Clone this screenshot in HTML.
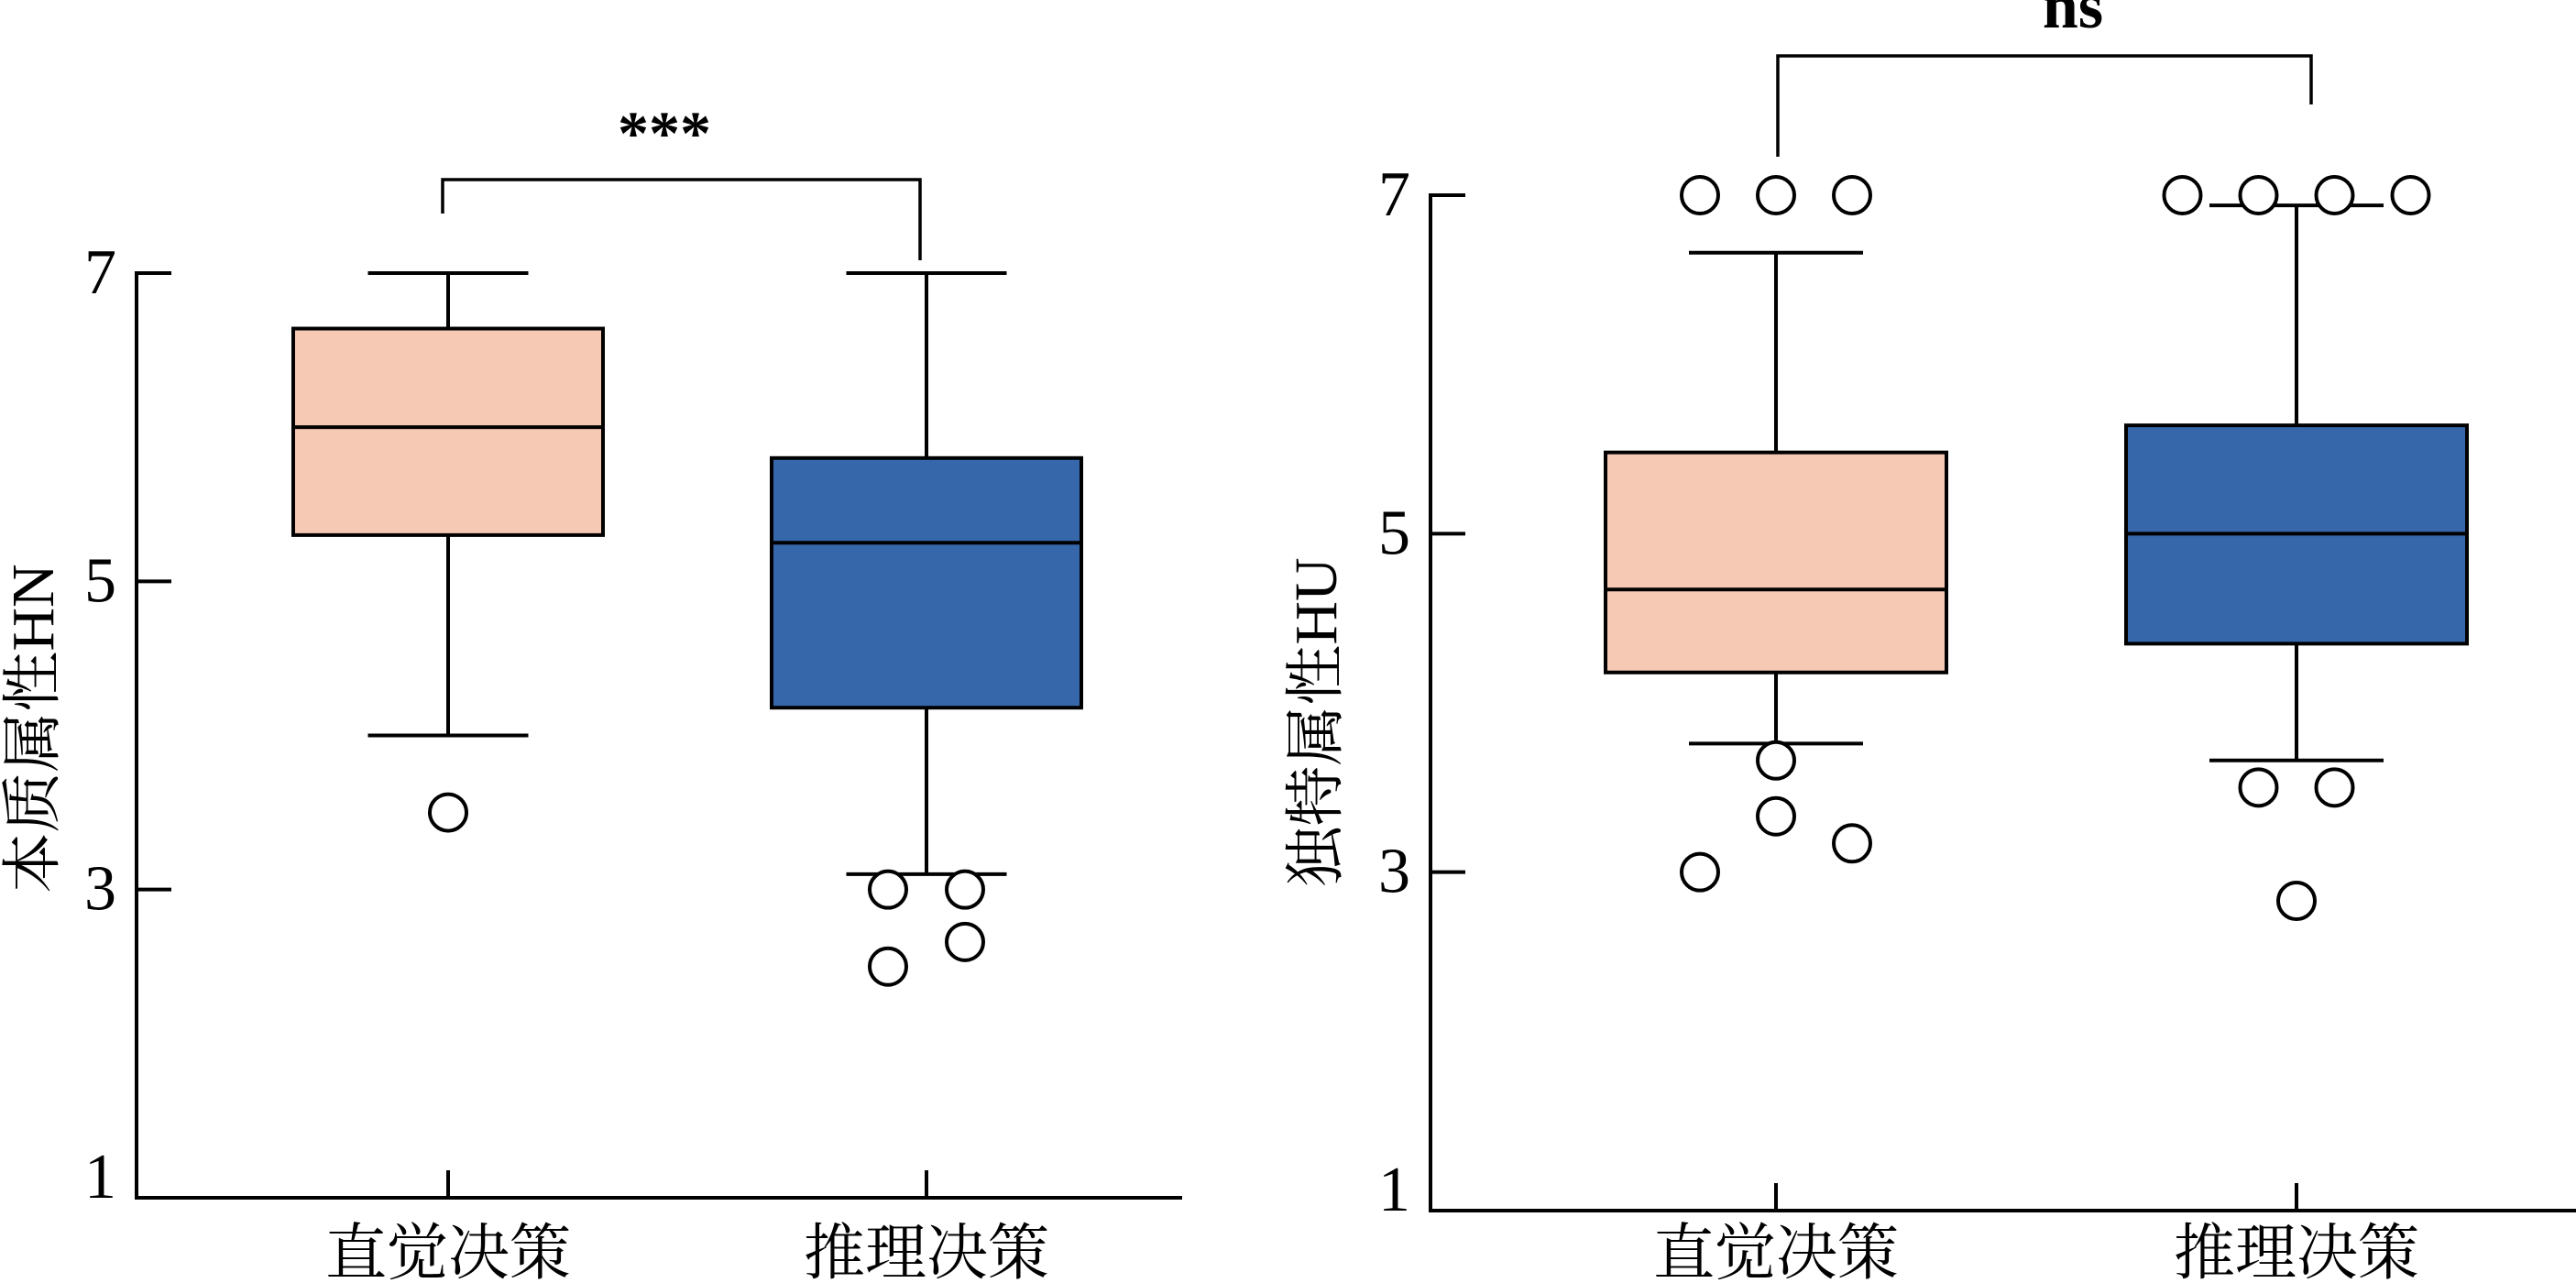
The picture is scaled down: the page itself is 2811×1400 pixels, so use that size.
<!DOCTYPE html>
<html><head><meta charset="utf-8"><style>
html,body{margin:0;padding:0;background:#fff;}
svg{display:block;}
text{font-family:"Liberation Serif","Noto Serif CJK SC",serif;fill:#000;}
</style></head><body>
<svg id="s" width="2811" height="1400" viewBox="0 0 2811 1400"></svg>
<script>
const categories = ["直觉决策","推理决策"];
const yTicks = [1,3,5,7];
// Chart A (本质属性HN)
const aQ1 = [5.30, 4.18];
const aMedian = [6.00, 5.25];
const aQ3 = [6.64, 5.80];
const aWhiskerLow = [4.00, 3.10];
const aWhiskerHigh = [7.00, 7.00];
const aOutliers = [[[0,3.5]], [[-1,3.0],[1,3.0],[-1,2.5],[1,2.66]]];
// Chart B (独特属性HU)
const bQ1 = [4.18, 4.35];
const bMedian = [4.67, 5.00];
const bQ3 = [5.48, 5.64];
const bWhiskerLow = [3.76, 3.66];
const bWhiskerHigh = [6.66, 6.94];
const bOutliers = [[[-1,7],[0,7],[1,7],[0,3.66],[0,3.33],[1,3.17],[-1,3.0]],
                   [[-1.5,7],[-0.5,7],[0.5,7],[1.5,7],[-0.5,3.5],[0.5,3.5],[0,2.83]]];

const NS="http://www.w3.org/2000/svg";
const svg=document.getElementById('s');
function mk(tag,attrs,parent){const e=document.createElementNS(NS,tag);for(const k in attrs)e.setAttribute(k,attrs[k]);(parent||svg).appendChild(e);return e;}
const colors=["#F6C9B4","#3667AA"];

function drawChart(cfg){
  const g=mk('g',{});
  
  
  const y=v=>cfg.y1+(v-1)*(cfg.y7-cfg.y1)/6;
  const lw=4;
  const ya=mk('line',{x1:cfg.ax,y1:y(7)-2,x2:cfg.ax,y2:cfg.y1+2,stroke:'#000','stroke-width':lw},g);
  
  
  const xa=mk('line',{x1:cfg.ax-2,y1:cfg.y1,x2:cfg.axEnd,y2:cfg.y1,stroke:'#000','stroke-width':lw},g);
  
  
  yTicks.forEach(t=>{
    if(t!==1){const tl=mk('line',{x1:cfg.ax,y1:y(t),x2:cfg.ax+38,y2:y(t),stroke:'#000','stroke-width':lw},g);
      
      }
    const tx=mk('text',{x:cfg.ax-22,y:y(t)+(t===1?0:22),'text-anchor':'end','font-size':70},g);
    tx.textContent=t;
    
    
  });
  const yl=mk('text',{transform:`translate(${cfg.labelX},${cfg.labelY}) rotate(-90)`,'text-anchor':'middle','font-size':66},g);
  yl.textContent=cfg.ylabel;
  
  
  categories.forEach((c,i)=>{
    const cx=cfg.cx[i];
    const tk=mk('line',{x1:cx,y1:cfg.y1,x2:cx,y2:cfg.y1-30,stroke:'#000','stroke-width':lw},g);
    
    
    const lb=mk('text',{x:cx,y:1390,'text-anchor':'middle','font-size':67},g);
    lb.textContent=c;
    
    
    const hw=cfg.boxW/2, cw=cfg.capW/2;
    const w1=mk('line',{x1:cx,y1:y(cfg.wh[i]),x2:cx,y2:y(cfg.q3[i]),stroke:'#000','stroke-width':lw},g);
    
    
    const w2=mk('line',{x1:cx,y1:y(cfg.q1[i]),x2:cx,y2:y(cfg.wl[i]),stroke:'#000','stroke-width':lw},g);
    
    
    const c1=mk('line',{x1:cx-cw,y1:y(cfg.wh[i]),x2:cx+cw,y2:y(cfg.wh[i]),stroke:'#000','stroke-width':lw},g);
    
    
    const c2=mk('line',{x1:cx-cw,y1:y(cfg.wl[i]),x2:cx+cw,y2:y(cfg.wl[i]),stroke:'#000','stroke-width':lw},g);
    
    
    const bx=mk('rect',{x:cx-hw,y:y(cfg.q3[i]),width:cfg.boxW,height:y(cfg.q1[i])-y(cfg.q3[i]),fill:colors[i],stroke:'#000','stroke-width':lw},g);
    
    
    const md=mk('line',{x1:cx-hw,y1:y(cfg.med[i]),x2:cx+hw,y2:y(cfg.med[i]),stroke:'#000','stroke-width':lw},g);
    
    
    cfg.out[i].forEach(o=>{
      const ci=mk('circle',{cx:cx+o[0]*cfg.outDx,cy:y(o[1]),r:20,fill:'#fff',stroke:'#000','stroke-width':lw},g);
      
      
    });
  });
  const br=mk('polyline',{points:`${cfg.br[0]},${cfg.br[2]} ${cfg.br[0]},${cfg.br[1]} ${cfg.br[3]},${cfg.br[1]} ${cfg.br[3]},${cfg.br[4]}`,fill:'none',stroke:'#000','stroke-width':3.5},g);
  
  
  const st=mk('text',{x:cfg.sigX,y:cfg.sigY,'text-anchor':'middle','font-size':cfg.sigSize,'font-weight':'bold'},g);
  st.textContent=cfg.sig;
  
  
}

drawChart({name:'chart-hn',ax:149,axEnd:1290,y1:1307,y7:298,cx:[489,1011],boxW:338,capW:175,outDx:42,
  q1:aQ1,med:aMedian,q3:aQ3,wl:aWhiskerLow,wh:aWhiskerHigh,out:aOutliers,
  ylabel:'本质属性HN',labelX:58,labelY:795,br:[483,196,233,1004,284],sig:'***',sigX:725,sigY:168,sigSize:68});
drawChart({name:'chart-hu',ax:1561,axEnd:2811,y1:1321,y7:213,cx:[1938,2506],boxW:372,capW:190,outDx:83,
  q1:bQ1,med:bMedian,q3:bQ3,wl:bWhiskerLow,wh:bWhiskerHigh,out:bOutliers,
  ylabel:'独特属性HU',labelX:1458,labelY:788,br:[1940,61,171,2522,114],sig:'ns',sigX:2262,sigY:30,sigSize:70});
</script>
</body></html>
